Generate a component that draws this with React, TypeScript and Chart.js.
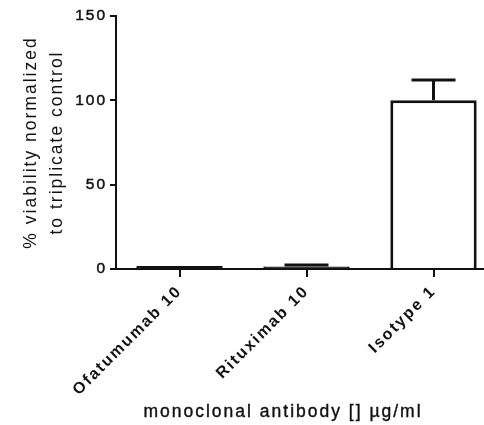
import React, { useEffect, useRef } from "react";
import { Chart, registerables } from "chart.js";

Chart.register(...registerables);

const categories = ["Ofatumumab 10", "Rituximab 10", "Isotype 1"];
const meanValues = [1.8, 1.5, 100];
const errorUpper: (number | null)[] = [null, 2.3, 112];
const yTicks = [0, 50, 100, 150];
const yTitle = ["% viability normalized", "to triplicate control"];
const xTitle = "monoclonal antibody [] µg/ml";

const FONT = "'Liberation Sans', Arial, sans-serif";
const INK = "#111";

const spacingPlugin = {
  id: "spacing",
  beforeUpdate(chart: any) {
    chart.ctx.letterSpacing = "2px";
  },
  beforeDraw(chart: any) {
    chart.ctx.letterSpacing = "2px";
  },
};

const errorBarPlugin = {
  id: "errorBars",
  afterDatasetsDraw(chart: any) {
    const ctx = chart.ctx;
    const meta = chart.getDatasetMeta(0);
    const yScale = chart.scales.y;
    ctx.save();
    ctx.strokeStyle = INK;
    ctx.lineWidth = 3;
    meta.data.forEach((bar: any, i: number) => {
      const up = errorUpper[i];
      if (up == null) return;
      const x = bar.x;
      const yTop = yScale.getPixelForValue(meanValues[i]);
      const yCap = yScale.getPixelForValue(up);
      ctx.beginPath();
      ctx.moveTo(x, yTop);
      ctx.lineTo(x, yCap);
      ctx.moveTo(x - 22, yCap);
      ctx.lineTo(x + 22, yCap);
      ctx.stroke();
    });
    ctx.restore();
  },
};

const xTitlePlugin = {
  id: "xTitle",
  afterDraw(chart: any) {
    const ctx = chart.ctx;
    ctx.save();
    ctx.letterSpacing = "2px";
    ctx.font = `17.5px ${FONT}`;
    ctx.fillStyle = INK;
    ctx.strokeStyle = INK;
    ctx.lineWidth = 0.4;
    ctx.textAlign = "center";
    ctx.textBaseline = "middle";
    ctx.fillText(xTitle, 283, 412);
    ctx.strokeText(xTitle, 283, 412);
    ctx.restore();
  },
};

export default function App() {
  const ref = useRef<HTMLCanvasElement | null>(null);
  useEffect(() => {
    if (!ref.current) return;
    const chart = new Chart(ref.current, {
      type: "bar",
      data: {
        labels: categories,
        datasets: [
          {
            data: meanValues,
            backgroundColor: (c: any) => (c.raw != null && c.raw < 3 ? INK : "#ffffff"),
            borderColor: INK,
            borderWidth: 3,
            barPercentage: 0.68,
            categoryPercentage: 1,
          },
        ],
      },
      options: {
        responsive: false,
        animation: false,
        devicePixelRatio: 1,
        layout: { padding: { top: 16, right: 3, bottom: 0, left: 0 } },
        plugins: {
          legend: { display: false },
          tooltip: { enabled: false },
        },
        scales: {
          x: {
            grid: {
              offset: false,
              drawOnChartArea: false,
              color: INK,
              lineWidth: 2,
              tickLength: 8,
            },
            border: { color: INK, width: 2 },
            ticks: {
              color: INK,
              font: { family: FONT, size: 16, weight: "bold" },
              maxRotation: 45,
              minRotation: 45,
              padding: 5,
            },
            afterFit(scale: any) {
              scale.height = 156;
            },
          },
          y: {
            min: 0,
            max: 150,
            afterBuildTicks(scale: any) {
              scale.ticks = yTicks.map((v) => ({ value: v }));
            },
            grid: {
              drawOnChartArea: false,
              color: INK,
              lineWidth: 2,
              tickLength: 6,
            },
            border: { color: INK, width: 2 },
            ticks: {
              color: INK,
              font: { family: FONT, size: 15.5 },
              padding: 3,
              textStrokeColor: INK,
              textStrokeWidth: 0.5,
            },
            title: {
              display: true,
              text: yTitle,
              color: INK,
              font: { family: FONT, size: 17.5, lineHeight: 1.5 },
              padding: { top: 18, bottom: 0 },
            },
            afterFit(scale: any) {
              scale.width = 116;
            },
          },
        },
      },
      plugins: [spacingPlugin, errorBarPlugin, xTitlePlugin],
    });
    return () => chart.destroy();
  }, []);
  return (
    <div
      style={{
        position: "fixed",
        left: 0,
        top: 0,
        width: 484,
        height: 425,
        overflow: "hidden",
        background: "#fff",
      }}
    >
      <canvas ref={ref} width={500} height={425} style={{ width: 500, height: 425, display: "block" }} />
    </div>
  );
}
